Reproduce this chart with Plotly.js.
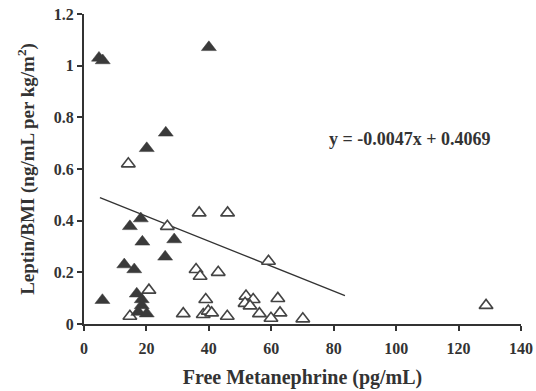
<!DOCTYPE html>
<html>
<head>
<meta charset="utf-8">
<script src="https://cdn.plot.ly/plotly-3.0.1.min.js"></script>
<style>html,body{margin:0;padding:0;background:#fff;}#chart{width:536px;height:391px;}</style>
</head>
<body>
<div id="chart"></div>
<script>
// Filled triangles
const filledX = [4.8, 6.0, 40.0, 26.2, 20.1, 18.2, 14.7, 18.7, 28.9, 26.0, 12.9, 16.1, 5.9, 16.9, 18.5, 18.5, 17.4, 20.1];
const filledY = [1.03, 1.02, 1.071, 0.74, 0.68, 0.408, 0.378, 0.318, 0.327, 0.26, 0.23, 0.211, 0.092, 0.117, 0.095, 0.072, 0.046, 0.040];
// Open triangles
const openX = [14.2, 26.7, 20.8, 14.7, 31.8, 36.9, 46.0, 59.1, 35.9, 37.2, 43.0, 39.0, 38.2, 39.8, 40.9, 45.9, 51.9, 54.2, 51.6, 53.2, 56.2, 62.1, 62.8, 59.9, 70.1, 128.8];
const openY = [0.62, 0.378, 0.131, 0.03, 0.04, 0.43, 0.43, 0.243, 0.211, 0.185, 0.2, 0.095, 0.037, 0.05, 0.043, 0.03, 0.108, 0.095, 0.08, 0.07, 0.04, 0.099, 0.043, 0.022, 0.02, 0.072];
// Trend line as drawn
const trendX = [5.1, 83.6];
const trendY = [0.489, 0.11];
const equationText = "y = -0.0047x + 0.4069";
const xTicks = [0, 20, 40, 60, 80, 100, 120, 140];
const yTicks = [0, 0.2, 0.4, 0.6, 0.8, 1, 1.2];
const yTickText = ["0", "0.2", "0.4", "0.6", "0.8", "1", "1.2"];

const dark = '#3a3a3a';
const font = 'Liberation Serif, Times New Roman, serif';

const traces = [
  {x: trendX, y: trendY, mode: 'lines', line: {color: '#333', width: 1.3}, hoverinfo: 'skip'},
  {x: openX, y: openY, mode: 'markers', marker: {symbol: 'triangle-up', size: 12, color: '#fff', line: {color: '#444', width: 1.6}}},
  {x: filledX, y: filledY, mode: 'markers', marker: {symbol: 'triangle-up', size: 13, color: dark, line: {color: dark, width: 0.5}}}
];

const axisCommon = {
  showgrid: false, zeroline: false, showline: true, linecolor: '#333', linewidth: 2,
  ticks: 'outside', ticklen: 5, tickwidth: 2, tickcolor: '#333',
  tickfont: {family: font, size: 16, color: '#333', weight: 'bold'}
};

const layout = {
  width: 536, height: 391,
  margin: {l: 84, r: 15, t: 14, b: 67},
  showlegend: false,
  paper_bgcolor: '#fff', plot_bgcolor: '#fff',
  xaxis: Object.assign({}, axisCommon, {
    range: [0, 140], tickvals: xTicks, ticktext: xTicks.map(String), ticklabelstandoff: 4,
    title: {text: 'Free Metanephrine (pg/mL)', font: {family: font, size: 20, color: '#333', weight: 'bold'}, standoff: 14}
  }),
  yaxis: Object.assign({}, axisCommon, {
    range: [0, 1.2], tickvals: yTicks, ticktext: yTickText,
    title: {text: 'Leptin/BMI (ng/mL per kg/m<sup>2</sup>)', font: {family: font, size: 19, color: '#333', weight: 'bold'}, standoff: 14}
  }),
  annotations: [{
    x: 104.5, y: 0.716, xref: 'x', yref: 'y', text: equationText, showarrow: false,
    font: {family: font, size: 18, color: '#333', weight: 'bold'}
  }]
};

Plotly.newPlot('chart', traces, layout, {displayModeBar: false, staticPlot: true});
</script>
</body>
</html>
